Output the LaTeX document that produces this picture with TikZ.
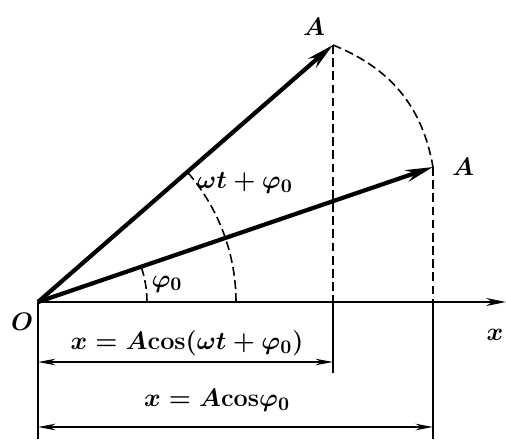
\documentclass[tikz,border=0pt]{standalone}
\usepackage{amsmath,amssymb}
\usetikzlibrary{arrows.meta}

\begin{document}
\begin{tikzpicture}[
  x=0.02cm,y=0.02cm,
  vec/.style={line width=2.4pt,-{Stealth[length=5.5mm,width=2.4mm]}},
  axis/.style={line width=1.2pt,-{Stealth[length=4mm,width=1.6mm]}},
  guide/.style={line width=0.9pt,dash pattern=on 5pt off 2.5pt},
  ext/.style={line width=0.9pt},
  dim/.style={line width=0.9pt,{Stealth[length=3.5mm,width=1.3mm]}-{Stealth[length=3.5mm,width=1.3mm]}},
  lbl/.style={font=\fontsize{15.5}{18}\selectfont\boldmath}
]
\useasboundingbox (0,0) rectangle (506,439);
% points
\coordinate (O) at (38,137);
\coordinate (A1) at (333,394);
\coordinate (A2) at (433,272);
\coordinate (xend) at (506,137);
\coordinate (F1) at (333,137);
\coordinate (F2) at (433,137);
\coordinate (E1) at (333,66);
\coordinate (E2) at (433,0);
\coordinate (E0) at (38,0);
\coordinate (D1a) at (38,77);
\coordinate (D1b) at (333,77);
\coordinate (D2a) at (38,12);
\coordinate (D2b) at (433,12);
% axis and vectors
\draw[axis] (O) -- (xend);
\draw[vec] (O) -- (A1);
\draw[vec] (O) -- (A2);
% dashed guides
\draw[guide] (A1) -- (F1);
\draw[guide] (A2) -- (F2);
\draw[guide] (A1) to[out=-22,in=100] (A2);
\draw[guide] ([shift={(109,0)}]O) arc[start angle=0,end angle=18.9,radius=109];
\draw[guide] ([shift={(198,0)}]O) arc[start angle=0,end angle=41,radius=198];
% extension lines and dimensions
\draw[ext] (F1) -- (E1);
\draw[ext] (F2) -- (E2);
\draw[ext] (O) -- (E0);
\draw[dim] (D1a) -- (D1b);
\draw[dim] (D2a) -- (D2b);
% labels
\node[lbl] (lO) at (22,117) {$O$};
\node[lbl] (lx) at (495,104) {$x$};
\node[lbl] (lA1) at (314,412) {$A$};
\node[lbl] (lA2) at (463,272) {$A$};
\node[lbl] (lwt) at (245,256) {$\omega t+\varphi_0$};
\node[lbl] (lphi) at (167,155) {$\varphi_0$};
\node[lbl] (l1) at (187,96) {$x=A\mathrm{cos}(\omega t+\varphi_0)$};
\node[lbl] (l2) at (217,39) {$x=A\mathrm{cos}\varphi_0$};
\end{tikzpicture}
\end{document}
